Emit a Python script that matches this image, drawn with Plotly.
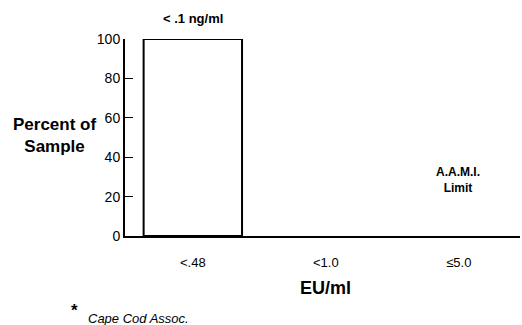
import plotly.graph_objects as go

# Endotoxin level categories and share of samples in each
categories = ["<.48", "<1.0", "≤5.0"]
percent_of_sample = [100, 0, 0]
y_ticks = [0, 20, 40, 60, 80, 100]

FONT = "Liberation Sans, Arial, Helvetica, sans-serif"

# plot-area geometry in pixels, used to place the free text
L, R, T, B = 125, 2, 39, 89
W, H = 522, 325
PW, PH = W - L - R, H - T - B


def px_x(px):
    return (px - L) / PW


def px_y(py):
    return (H - B - py) / PH


fig = go.Figure()
fig.add_trace(go.Bar(
    x=[0, 1, 2],
    y=percent_of_sample,
    width=0.74,
    marker=dict(
        color="white",
        line=dict(color="black",
                  width=[2 if v > 0 else 0 for v in percent_of_sample]),
    ),
    showlegend=False,
))

fig.update_layout(
    width=W, height=H,
    margin=dict(l=L, r=R, t=T, b=B),
    paper_bgcolor="white", plot_bgcolor="white",
    font=dict(family=FONT, color="black"),
    xaxis=dict(
        range=[-0.51, 2.46],
        tickmode="array", tickvals=[0, 1, 2], ticktext=categories,
        showline=True, linecolor="black", linewidth=2,
        showgrid=False, zeroline=False, ticks="",
        tickfont=dict(size=13), ticklabelstandoff=13,
    ),
    yaxis=dict(
        range=[0, 100],
        tickmode="array", tickvals=y_ticks,
        showline=True, linecolor="black", linewidth=2,
        showgrid=False, zeroline=False,
        ticks="inside", ticklen=8, tickwidth=1, tickcolor="black",
        tickfont=dict(size=14),
    ),
    annotations=[
        dict(text="<b>Percent of<br>Sample</b>", xref="paper", yref="paper",
             x=px_x(54), y=px_y(135), xanchor="center", yanchor="middle",
             showarrow=False, font=dict(size=17), align="center"),
        dict(text="<b>< .1 ng/ml</b>", xref="x", yref="paper",
             x=0, y=px_y(18), xanchor="center", yanchor="middle",
             showarrow=False, font=dict(size=13)),
        dict(text="<b>A.A.M.I.<br>Limit</b>", xref="paper", yref="paper",
             x=px_x(458), y=px_y(180), xanchor="center", yanchor="middle",
             showarrow=False, font=dict(size=12), align="center"),
        dict(text="<b>EU/ml</b>", xref="x", yref="paper",
             x=1, y=px_y(288), xanchor="center", yanchor="middle",
             showarrow=False, font=dict(size=18)),
        dict(text="<b>*</b>", xref="paper", yref="paper",
             x=px_x(74), y=px_y(310), xanchor="center", yanchor="middle",
             showarrow=False, font=dict(size=17)),
        dict(text="<i>Cape Cod Assoc.</i>", xref="paper", yref="paper",
             x=px_x(86), y=px_y(318), xanchor="left", yanchor="middle",
             showarrow=False, font=dict(size=13)),
    ],
)

fig.write_html("out.html")
